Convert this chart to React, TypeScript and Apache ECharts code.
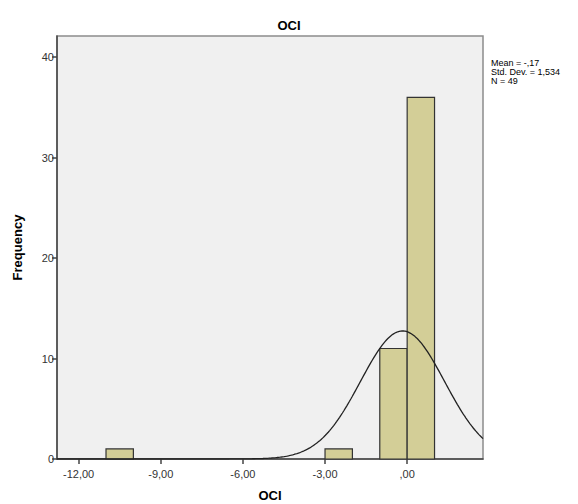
import React, { useEffect, useRef } from "react";
import * as echarts from "echarts";

// Histogram bins (start of each bin, width 1)
const binStarts = [-11, -3, -1, 0];
const binCounts = [1, 1, 11, 36];
const binWidth = 1;

// Summary statistics shown in the legend
const meanValue = -0.17;
const stdDev = 1.534;
const nCount = 49;

const xTicks = [-12, -9, -6, -3, 0];
const yTicks = [0, 10, 20, 30, 40];
const xMin = -12.79;
const xMax = 2.77;
const yMax = 42.1;

const fmt = (v: number) => {
  let s = v.toFixed(2).replace(".", ",");
  if (s.startsWith("0,")) s = s.slice(1);
  if (s.startsWith("-0,")) s = "-" + s.slice(2);
  return s;
};

// Fitted normal curve derived from the stated mean / std dev / N
const curve: number[][] = [];
for (let i = 0; i <= 300; i++) {
  const x = xMin + ((xMax - xMin) * i) / 300;
  const z = (x - meanValue) / stdDev;
  const y = (nCount * binWidth) / (stdDev * Math.sqrt(2 * Math.PI)) * Math.exp(-0.5 * z * z);
  curve.push([x, y]);
}

const statLines = [
  `Mean = ${fmt(meanValue).replace(/0$/, "")}`,
  `Std. Dev. = ${stdDev.toFixed(3).replace(".", ",")}`,
  `N = ${nCount}`,
];

const FONT = "'Liberation Sans', Arial, sans-serif";

export default function App() {
  const ref = useRef<HTMLDivElement>(null);
  useEffect(() => {
    if (!ref.current) return;
    const chart = echarts.init(ref.current, undefined, { renderer: "svg" });
    chart.setOption({
      animation: false,
      backgroundColor: "#ffffff",
      textStyle: { fontFamily: FONT },
      title: {
        text: "OCI",
        left: "center",
        top: 14,
        textStyle: { fontSize: 13, fontWeight: "bold", color: "#000", fontFamily: FONT },
      },
      grid: {
        left: 57,
        right: 95,
        top: 36,
        bottom: 45,
        containLabel: false,
        outerBoundsMode: "none",
        show: true,
        backgroundColor: "#F0F0F0",
        borderColor: "#8c8c8c",
        borderWidth: 1.5,
      },
      xAxis: {
        type: "value",
        min: xMin,
        max: xMax,
        name: "OCI",
        nameLocation: "middle",
        nameGap: 30,
        nameTextStyle: { fontSize: 13, fontWeight: "bold", color: "#000", fontFamily: FONT, lineHeight: 13 },
        splitLine: { show: false },
        axisLine: { show: true, onZero: false, lineStyle: { color: "#444", width: 1.5 } },
        axisTick: { show: true, inside: false, customValues: xTicks, length: 5, lineStyle: { color: "#444", width: 1.5 } },
        axisLabel: { customValues: xTicks, formatter: (v: number) => fmt(v), fontSize: 11, color: "#333", margin: 9, fontFamily: FONT },
      },
      yAxis: {
        type: "value",
        min: 0,
        max: yMax,
        name: "Frequency",
        nameLocation: "middle",
        nameGap: 33,
        nameTextStyle: { fontSize: 13, fontWeight: "bold", color: "#000", fontFamily: FONT },
        splitLine: { show: false },
        axisLine: { show: true, onZero: false, lineStyle: { color: "#444", width: 1.5 } },
        axisTick: { show: true, inside: false, customValues: yTicks, length: 5, lineStyle: { color: "#444", width: 1.5 } },
        axisLabel: { customValues: yTicks, fontSize: 11, color: "#333", margin: 3, fontFamily: FONT },
      },
      graphic: statLines.map((t, i) => ({
        type: "text",
        left: 491,
        top: 58 + i * 9.2,
        style: {
          text: t,
          fontSize: 9,
          lineHeight: 9,
          fill: "#000",
          fontFamily: FONT,
        },
      })),
      series: [
        {
          type: "custom",
          data: binStarts.map((s, i) => [s, s + binWidth, binCounts[i]]),
          renderItem: (params: any, api: any) => {
            const p0 = api.coord([api.value(0), 0]);
            const p1 = api.coord([api.value(1), api.value(2)]);
            return {
              type: "rect",
              shape: { x: p0[0], y: p1[1], width: p1[0] - p0[0], height: p0[1] - p1[1] },
              style: { fill: "#D3CE97", stroke: "#333", lineWidth: 1.2 },
            };
          },
          z: 2,
        },
        {
          type: "line",
          data: curve,
          showSymbol: false,
          symbol: "none",
          lineStyle: { color: "#222", width: 1.3 },
          z: 3,
        },
      ],
    });
    return () => chart.dispose();
  }, []);
  return (
    <div
      ref={ref}
      style={{ position: "fixed", left: 0, top: 0, width: 578, height: 504 }}
    />
  );
}
